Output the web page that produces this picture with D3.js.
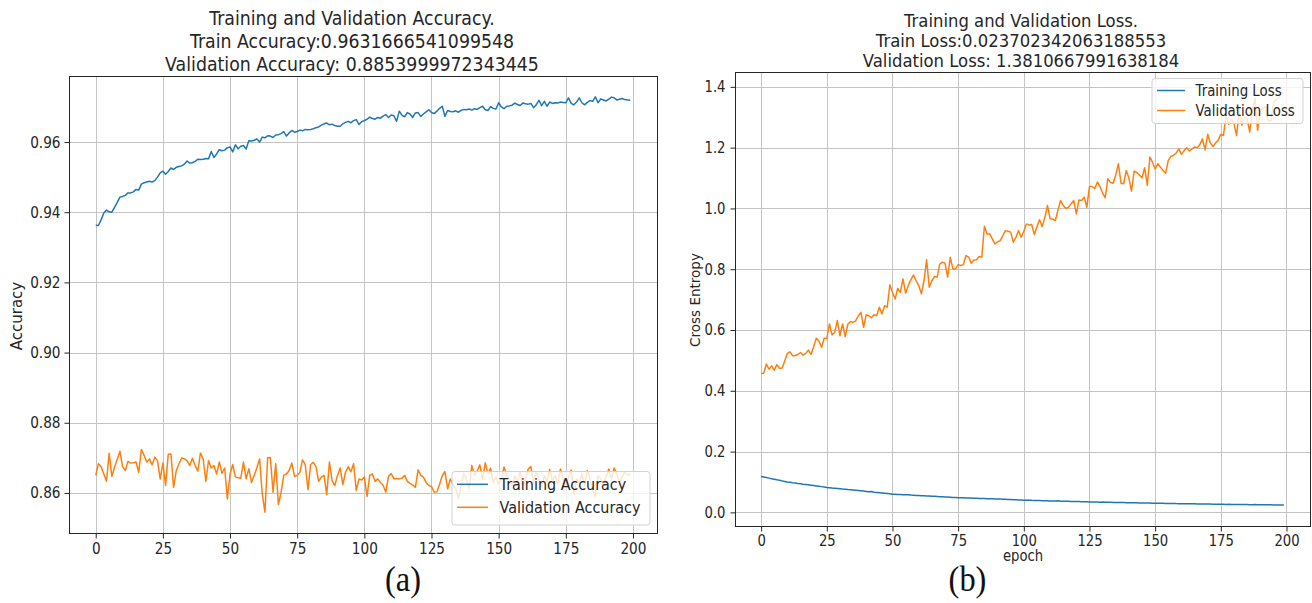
<!DOCTYPE html>
<html><head><meta charset="utf-8">
<script src="https://cdn.jsdelivr.net/npm/d3@7"></script>
<style>
body{margin:0;background:#fff;}
svg text{font-family:"DejaVu Sans",sans-serif;fill:#262626;}
svg text.tag{font-family:"Liberation Serif","Times New Roman",serif;fill:#111;}
</style></head><body>
<svg id="c" width="1312" height="603"></svg>
<script>
const trainAcc = [
0.9363,0.9362,0.9378,0.9398,0.9406,0.9401,0.9400,0.9414,0.9428,0.9443,
0.9445,0.9448,0.9455,0.9455,0.9458,0.9465,0.9463,0.9480,0.9484,0.9486,
0.9488,0.9486,0.9490,0.9500,0.9512,0.9517,0.9508,0.9516,0.9526,0.9522,
0.9528,0.9530,0.9532,0.9537,0.9546,0.9540,0.9541,0.9545,0.9551,0.9550,
0.9551,0.9553,0.9552,0.9573,0.9556,0.9566,0.9578,0.9575,0.9577,0.9584,
0.9586,0.9572,0.9592,0.9581,0.9588,0.9590,0.9580,0.9604,0.9603,0.9605,
0.9609,0.9600,0.9614,0.9612,0.9618,0.9617,0.9613,0.9620,0.9621,0.9624,
0.9630,0.9617,0.9626,0.9633,0.9628,0.9630,0.9634,0.9632,0.9636,0.9635,
0.9636,0.9638,0.9641,0.9643,0.9648,0.9652,0.9654,0.9649,0.9651,0.9647,
0.9645,0.9645,0.9652,0.9656,0.9659,0.9655,0.9661,0.9664,0.9650,0.9658,
0.9661,0.9665,0.9671,0.9667,0.9665,0.9670,0.9668,0.9674,0.9678,0.9670,
0.9677,0.9675,0.9659,0.9688,0.9676,0.9672,0.9684,0.9680,0.9670,0.9683,
0.9684,0.9673,0.9680,0.9686,0.9692,0.9684,0.9681,0.9688,0.9696,0.9702,
0.9673,0.9690,0.9687,0.9686,0.9689,0.9685,0.9690,0.9693,0.9692,0.9694,
0.9691,0.9695,0.9693,0.9698,0.9702,0.9692,0.9690,0.9701,0.9696,0.9694,
0.9712,0.9700,0.9695,0.9702,0.9703,0.9705,0.9711,0.9707,0.9704,0.9711,
0.9709,0.9708,0.9710,0.9698,0.9706,0.9719,0.9704,0.9716,0.9702,0.9714,
0.9710,0.9712,0.9711,0.9714,0.9713,0.9712,0.9726,0.9710,0.9706,0.9714,
0.9726,0.9712,0.9706,0.9713,0.9718,0.9716,0.9729,0.9712,0.9723,0.9720,
0.9717,0.9722,0.9728,0.9726,0.9720,0.9722,0.9724,0.9721,0.9720,0.9719];

const valAcc = [
0.8650,0.8683,0.8675,0.8654,0.8633,0.8713,0.8647,0.8673,0.8695,0.8719,
0.8675,0.8664,0.8690,0.8685,0.8686,0.8688,0.8659,0.8724,0.8707,0.8688,
0.8697,0.8680,0.8702,0.8692,0.8640,0.8685,0.8621,0.8710,0.8711,0.8616,
0.8664,0.8683,0.8700,0.8697,0.8692,0.8678,0.8699,0.8678,0.8662,0.8714,
0.8696,0.8633,0.8692,0.8671,0.8678,0.8654,0.8688,0.8656,0.8671,0.8583,
0.8654,0.8681,0.8645,0.8643,0.8642,0.8688,0.8640,0.8669,0.8630,0.8650,
0.8672,0.8697,0.8597,0.8545,0.8700,0.8701,0.8602,0.8683,0.8567,0.8602,
0.8650,0.8654,0.8664,0.8685,0.8647,0.8650,0.8659,0.8694,0.8681,0.8609,
0.8681,0.8687,0.8675,0.8633,0.8645,0.8650,0.8595,0.8688,0.8635,0.8621,
0.8650,0.8671,0.8624,0.8659,0.8675,0.8660,0.8683,0.8607,0.8640,0.8637,
0.8645,0.8590,0.8650,0.8654,0.8633,0.8640,0.8630,0.8621,0.8602,0.8648,
0.8655,0.8640,0.8641,0.8640,0.8642,0.8650,0.8633,0.8627,0.8622,0.8616,
0.8666,0.8650,0.8645,0.8630,0.8621,0.8618,0.8602,0.8603,0.8625,0.8649,
0.8661,0.8612,0.8640,0.8622,0.8615,0.8583,0.8620,0.8655,0.8640,0.8612,
0.8678,0.8650,0.8662,0.8680,0.8640,0.8686,0.8655,0.8670,0.8630,0.8645,
0.8625,0.8640,0.8674,0.8650,0.8640,0.8622,0.8648,0.8630,0.8660,0.8620,
0.8640,0.8668,0.8675,0.8625,0.8660,0.8640,0.8618,0.8650,0.8630,0.8667,
0.8635,0.8650,0.8625,0.8668,0.8640,0.8620,0.8645,0.8665,0.8595,0.8640,
0.8630,0.8655,0.8620,0.8664,0.8640,0.8610,0.8590,0.8650,0.8640,0.8625,
0.8645,0.8668,0.8640,0.8671,0.8655,0.8630,0.8645,0.8660,0.8650,0.8654];

const trainLoss = [
0.1180,0.1163,0.1144,0.1127,0.1108,0.1091,0.1072,0.1055,0.1036,0.1019,
0.1001,0.0990,0.0977,0.0966,0.0953,0.0942,0.0929,0.0918,0.0906,0.0894,
0.0882,0.0871,0.0859,0.0847,0.0835,0.0822,0.0814,0.0804,0.0796,0.0787,
0.0779,0.0769,0.0761,0.0751,0.0743,0.0735,0.0726,0.0717,0.0709,0.0700,
0.0690,0.0681,0.0687,0.0665,0.0656,0.0647,0.0638,0.0629,0.0620,0.0611,
0.0600,0.0596,0.0590,0.0587,0.0581,0.0577,0.0583,0.0568,0.0563,0.0558,
0.0554,0.0549,0.0545,0.0540,0.0536,0.0531,0.0527,0.0522,0.0518,0.0513,
0.0507,0.0502,0.0498,0.0493,0.0488,0.0484,0.0481,0.0478,0.0475,0.0472,
0.0469,0.0466,0.0463,0.0460,0.0457,0.0455,0.0452,0.0449,0.0446,0.0443,
0.0440,0.0436,0.0432,0.0429,0.0425,0.0421,0.0418,0.0414,0.0411,0.0407,
0.0402,0.0400,0.0403,0.0396,0.0393,0.0391,0.0388,0.0386,0.0383,0.0381,
0.0378,0.0376,0.0374,0.0380,0.0369,0.0367,0.0365,0.0362,0.0360,0.0358,
0.0356,0.0354,0.0352,0.0350,0.0348,0.0345,0.0343,0.0341,0.0339,0.0337,
0.0342,0.0333,0.0331,0.0330,0.0328,0.0326,0.0324,0.0323,0.0321,0.0319,
0.0317,0.0316,0.0314,0.0313,0.0311,0.0310,0.0308,0.0307,0.0305,0.0303,
0.0302,0.0300,0.0299,0.0297,0.0294,0.0293,0.0290,0.0294,0.0289,0.0287,
0.0286,0.0284,0.0283,0.0282,0.0280,0.0284,0.0276,0.0278,0.0275,0.0277,
0.0273,0.0272,0.0271,0.0270,0.0268,0.0267,0.0265,0.0260,0.0266,0.0263,
0.0262,0.0258,0.0261,0.0260,0.0257,0.0256,0.0254,0.0253,0.0256,0.0251,
0.0250,0.0249,0.0251,0.0248,0.0247,0.0246,0.0245,0.0244,0.0241,0.0240];

const valLoss = [
0.457,0.458,0.488,0.471,0.482,0.468,0.486,0.474,0.475,0.499,
0.523,0.528,0.515,0.516,0.520,0.526,0.517,0.523,0.534,0.520,
0.545,0.573,0.564,0.543,0.573,0.572,0.620,0.584,0.592,0.631,
0.581,0.620,0.578,0.619,0.628,0.625,0.630,0.647,0.658,0.609,
0.650,0.647,0.640,0.650,0.648,0.675,0.653,0.680,0.675,0.749,
0.724,0.702,0.737,0.724,0.768,0.721,0.746,0.765,0.781,0.762,
0.746,0.719,0.762,0.831,0.741,0.762,0.776,0.774,0.817,0.823,
0.820,0.774,0.839,0.801,0.801,0.815,0.812,0.815,0.845,0.840,
0.820,0.830,0.831,0.842,0.840,0.941,0.916,0.916,0.900,0.883,
0.890,0.894,0.910,0.927,0.925,0.922,0.889,0.905,0.927,0.905,
0.925,0.949,0.945,0.947,0.914,0.940,0.963,0.940,0.970,1.010,
0.966,0.965,0.960,0.995,1.026,1.010,1.000,1.004,1.015,1.026,
0.982,1.028,1.026,1.037,1.004,1.072,1.072,1.065,1.087,1.072,
1.050,1.035,1.098,1.085,1.083,1.110,1.147,1.083,1.081,1.125,
1.100,1.057,1.123,1.118,1.110,1.101,1.134,1.076,1.169,1.152,
1.130,1.147,1.136,1.125,1.116,1.158,1.171,1.175,1.182,1.196,
1.178,1.190,1.200,1.189,1.195,1.202,1.200,1.210,1.229,1.193,
1.244,1.215,1.204,1.215,1.224,1.244,1.240,1.306,1.277,1.295,
1.280,1.240,1.323,1.274,1.300,1.295,1.251,1.323,1.362,1.257,
1.323,1.330,1.334,1.290,1.288,1.345,1.358,1.362,1.378,1.381];

const epochTicks = [0,25,50,75,100,125,150,175,200];
const accTicks = [0.86,0.88,0.90,0.92,0.94,0.96];
const lossTicks = [0.0,0.2,0.4,0.6,0.8,1.0,1.2,1.4];
const accTitle = ["Training and Validation Accuracy.","Train Accuracy:0.9631666541099548","Validation Accuracy: 0.8853999972343445"];
const lossTitle = ["Training and Validation Loss.","Train Loss:0.023702342063188553","Validation Loss: 1.3810667991638184"];
const accLegend = ["Training Accuracy","Validation Accuracy"];
const lossLegend = ["Training Loss","Validation Loss"];
const COLORS = ["#1f77b4","#ff7f0e"];

const svg = d3.select("#c");

function squeeze(sel, k){
  sel.each(function(){
    const L = this.getComputedTextLength();
    if (L > 0){ this.setAttribute("textLength", L*k); this.setAttribute("lengthAdjust","spacingAndGlyphs"); }
  });
}

function drawPanel(o){
  const g = svg.append("g");
  const all = o.series.flat();
  const [mn, mx] = d3.extent(all);
  const pad = (mx - mn) * 0.05;
  const n = o.series[0].length;
  const xp = (n - 1) * 0.05;
  const x = d3.scaleLinear().domain([-xp, n - 1 + xp]).range([o.left, o.right]);
  const y = d3.scaleLinear().domain([mn - pad, mx + pad]).range([o.bottom, o.top]);
  const cr = v => Math.round(v) + 0.5;

  // grid
  g.append("g").selectAll("line").data(o.xTicks).join("line")
    .attr("x1", d => cr(x(d))).attr("x2", d => cr(x(d)))
    .attr("y1", o.top).attr("y2", o.bottom)
    .attr("stroke", "#c4c4c4").attr("stroke-width", 1);
  g.append("g").selectAll("line").data(o.yTicks).join("line")
    .attr("y1", d => cr(y(d))).attr("y2", d => cr(y(d)))
    .attr("x1", o.left).attr("x2", o.right)
    .attr("stroke", "#c4c4c4").attr("stroke-width", 1);

  // lines
  const line = d3.line().x((d, i) => x(i)).y(d => y(d));
  o.series.forEach((s, i) => {
    g.append("path").datum(s).attr("d", line)
      .attr("fill", "none").attr("stroke", COLORS[i]).attr("stroke-width", 1.5)
      .attr("stroke-linejoin", "round");
  });

  // axes
  const xa = g.append("g").attr("transform", `translate(0,${cr(o.bottom)})`)
    .call(d3.axisBottom(x).tickValues(o.xTicks).tickSize(5).tickPadding(o.xPad).tickFormat(d3.format("d")));
  const ya = g.append("g").attr("transform", `translate(${cr(o.left)},0)`)
    .call(d3.axisLeft(y).tickValues(o.yTicks).tickSize(5).tickPadding(o.yPad).tickFormat(d3.format(o.yFmt)));
  [xa, ya].forEach(a => {
    a.select(".domain").remove();
    a.selectAll(".tick line").attr("stroke", "#262626");
    a.selectAll("text").attr("font-size", o.tickFont).attr("font-family", "DejaVu Sans").attr("fill", "#262626");
    squeeze(a.selectAll("text"), o.tickSq);
  });

  // frame
  g.append("rect").attr("x", cr(o.left)).attr("y", cr(o.top))
    .attr("width", Math.round(o.right) - Math.round(o.left)).attr("height", Math.round(o.bottom) - Math.round(o.top))
    .attr("fill", "none").attr("stroke", "#262626").attr("stroke-width", 1);

  // title
  const t = g.append("g").selectAll("text").data(o.title).join("text")
    .attr("x", o.titleX).attr("y", (d, i) => o.titleY + i * o.titleStep)
    .attr("text-anchor", "middle").attr("font-size", o.titleFont).text(d => d);
  squeeze(t, o.titleSq);

  // axis labels
  if (o.yLabel){
    g.append("text").attr("transform", `translate(${o.yLabel.x},${o.yLabel.y}) rotate(-90)`)
      .attr("text-anchor", "middle").attr("dy", "0.35em").attr("font-size", o.yLabel.size).text(o.yLabel.text);
  }
  if (o.xLabel){
    const xl = g.append("text").attr("x", o.xLabel.x).attr("y", o.xLabel.y)
      .attr("text-anchor", "middle").attr("dy", "0.35em").attr("font-size", o.xLabel.size).text(o.xLabel.text);
    squeeze(xl, o.tickSq);
  }

  // legend
  const L = o.legend;
  const lg = g.append("g");
  lg.append("rect").attr("x", L.x).attr("y", L.y).attr("width", L.w).attr("height", L.h)
    .attr("rx", 3).attr("fill", "#fff").attr("fill-opacity", 0.8).attr("stroke", "#d2d2d2").attr("stroke-width", 1);
  L.labels.forEach((lab, i) => {
    const yy = L.y + L.row0 + i * L.step;
    lg.append("line").attr("x1", L.x + L.lx0).attr("x2", L.x + L.lx1).attr("y1", yy).attr("y2", yy)
      .attr("stroke", COLORS[i]).attr("stroke-width", 1.5);
    const tx = lg.append("text").attr("x", L.x + L.tx).attr("y", yy).attr("dy", "0.36em")
      .attr("font-size", L.size).text(lab);
    squeeze(tx, L.sq);
  });

  // panel tag
  svg.append("text").attr("class", "tag").attr("x", o.tag.x).attr("y", o.tag.y).attr("text-anchor", "middle")
    .attr("font-size", 36).text(o.tag.text).call(s => squeeze(s, 0.9));
}

drawPanel({
  series: [trainAcc, valAcc], left: 69, right: 657, top: 76, bottom: 533,
  xTicks: epochTicks, yTicks: accTicks, yFmt: ".2f",
  xPad: 4.5, yPad: 4, tickFont: 15.5, tickSq: 0.88,
  title: accTitle, titleX: 352, titleY: 24.5, titleStep: 23.2, titleFont: 19.5, titleSq: 0.89,
  yLabel: {text: "Accuracy", x: 17, y: 316, size: 15},
  legend: {x: 452, y: 471.5, w: 198, h: 53.5, row0: 12.8, step: 23, lx0: 5, lx1: 36, tx: 47.5, size: 16.5, sq: 0.87, labels: accLegend},
  tag: {text: "(a)", x: 403, y: 591}
});

drawPanel({
  series: [trainLoss, valLoss], left: 735, right: 1310, top: 72, bottom: 525.7,
  xTicks: epochTicks, yTicks: lossTicks, yFmt: ".1f",
  xPad: 3.5, yPad: 5, tickFont: 15, tickSq: 0.88,
  title: lossTitle, titleX: 1021, titleY: 26.5, titleStep: 20, titleFont: 17.5, titleSq: 0.94,
  yLabel: {text: "Cross Entropy", x: 695, y: 300, size: 13.5},
  xLabel: {text: "epoch", x: 1023, y: 556, size: 15},
  legend: {x: 1152, y: 78.5, w: 151, h: 45, row0: 12, step: 20, lx0: 5, lx1: 33, tx: 43.5, size: 15.5, sq: 0.86, labels: lossLegend},
  tag: {text: "(b)", x: 967.5, y: 591}
});
</script>
</body></html>
